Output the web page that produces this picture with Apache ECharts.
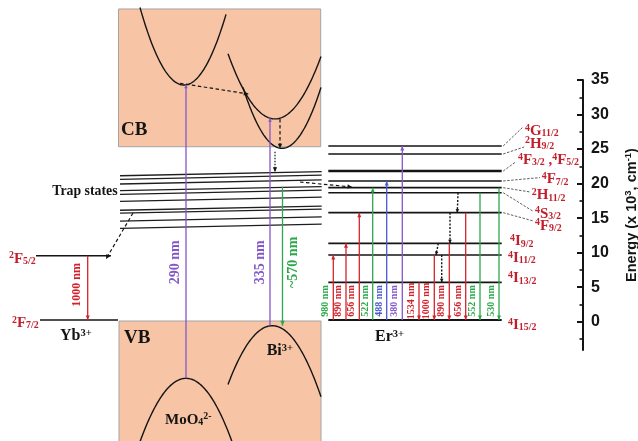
<!DOCTYPE html>
<html>
<head>
<meta charset="utf-8">
<title>Energy transfer scheme</title>
<script src="https://cdn.jsdelivr.net/npm/echarts@6.0.0/dist/echarts.min.js"></script>
<style>
  html, body { margin: 0; padding: 0; background: #ffffff; }
  #chart { width: 638px; height: 441px; }
</style>
</head>
<body>
<div id="chart"></div>
<script>
// ---------------- data (energies in 10^3 cm^-1) ----------------

// Er3+ multiplets, ground state first
const erLevelNames  = ['4I15/2', '4I13/2', '4I11/2', '4I9/2', '4F9/2', '4S3/2', '2H11/2', '4F7/2', '4F3/2,4F5/2', '2H9/2', '4G11/2'];
const erLevelEnergy = [0.25, 5.7, 9.66, 11.35, 15.79, 18.68, 19.41, 20.38, 21.82, 24.29, 25.45];

// Yb3+ multiplets
const ybLevelNames  = ['2F7/2', '2F5/2'];
const ybLevelEnergy = [0.25, 9.56];

// host trap states (energy at the left end of each line; each rises slightly to the right)
const trapEnergy = [21.14, 20.62, 19.94, 18.97, 18.45, 17.44, 16.14, 15.71, 14.58, 13.53];
const trapRise = 0.6;

// Er3+ radiative transitions (level indices) and their horizontal slots
const erTransLabels = ['980 nm', '890 nm', '656 nm', '522 nm', '488 nm', '380 nm', '1534 nm', '1000 nm', '890 nm', '656 nm', '552 nm', '530 nm'];
const erTransFrom   = [0, 0, 0, 0, 0, 0, 1, 2, 3, 4, 5, 6];
const erTransTo     = [2, 3, 4, 6, 7, 10, 0, 0, 0, 0, 0, 0];
const erTransSlot   = [333.3, 346, 359.3, 372.7, 386.7, 402.3, 419, 434.3, 449.3, 465.7, 480, 499];

// Er3+ non-radiative relaxation steps
const erRelaxFrom      = [5, 4, 3, 2];
const erRelaxTo        = [4, 3, 2, 1];
const erRelaxSlotStart = [458, 450, 438.3, 441.7];
const erRelaxSlotEnd   = [457.3, 450, 436, 441.7];

// host band boxes
const bandNames  = ['CB', 'VB'];
const bandLeft   = [118.5, 119];
const bandRight  = [320.7, 321];
const bandTop    = [45.29, 0.1];
const bandBottom = [25.34, -18];

// parabolic band extrema, E = E0 + k (x - x0)^2
const curveNames = ['MoO4 CB', 'Bi CB upper', 'Bi CB lower', 'MoO4 VB', 'Bi VB'];
const curveX0    = [184, 275, 282, 186, 272.3];
const curveE0    = [34.27, 29.37, 25.11, -8.2, -0.58];
const curveK     = [0.0058, 0.00427, 0.0058, -0.00434, -0.00434];
const curveFrom  = [140, 228, 243, 140, 228];
const curveTo    = [226, 321, 321, 236, 321];

// host excitation / emission
const hostTransLabels = ['290 nm', '335 nm', '~570 nm'];
const hostTransSlot   = [186, 270, 282.5];
const hostTransFrom   = [-8.2, -0.58, 19.55];
const hostTransTo     = [34.3, 29.45, -0.58];

// Yb3+ emission
const ybTransLabels = ['1000 nm'];
const ybTransSlot   = [87.7];

// transfer paths (dashed)
const transferStartX = [180, 280, 275, 300, 133];
const transferStartE = [34.53, 29.37, 24.62, 20.23, 15.74];
const transferEndX   = [248.3, 280, 275, 352, 106];
const transferEndE   = [32.98, 25.11, 21.72, 19.51, 9.08];

// energy axis ticks
const majorTicks = [0, 5, 10, 15, 20, 25, 30, 35];
const minorTicks = [-2.5, 2.5, 7.5, 12.5, 17.5, 22.5, 27.5, 32.5];

// ---------------- layout & style ----------------
const SERIF = "'Liberation Serif', 'Times New Roman', Times, serif";
const SANS = "'Liberation Sans', Arial, Helvetica, sans-serif";
const RED = '#d2232c', LABEL_RED = '#c21f2d', GREEN = '#2ba84a', BLUE = '#4a5ad2', PURPLE = '#8457c8';
const PEACH = '#f7c5a5', INK = '#141414';

const erLine = [328.3, 501.7];
const ybLine = [[40, 118], [36, 111]];
const trapLine = [120, 321.7];
const erTransColor = [RED, RED, RED, GREEN, BLUE, PURPLE, RED, RED, RED, RED, GREEN, GREEN];
const erTransTextColor = [GREEN, RED, RED, GREEN, BLUE, PURPLE, RED, RED, RED, RED, GREEN, GREEN];
const hostTransColor = [PURPLE, PURPLE, GREEN];
// label offsets (px) from the right end of each Er line: [dx, dy, leaderDx, leaderDy]
const erLabelLayout = [
  [6.3, 5], [6.3, -4], [6.3, 3], [8.3, -2],
  [33.3, 13, 31.6, 8.3], [33.3, 21, 31.6, 18.7], [30, 7.7, 29, 4.4], [40, -1.7, 38.3, -3.4],
  [16.3, -11, 14.5, -9.5], [23.3, -10.3, 22.5, -7], [23.3, -15, 21.6, -19.3]
];

function termRich(name) {
  return name.split(',').map(function (part) {
    const m = part.match(/^(\d)([A-Z])(.+)$/);
    return '{s|' + m[1] + '}{m|' + m[2] + '}{b|' + m[3] + '}';
  }).join('{m| ,}');
}
function richStyles(size, family) {
  const f = family || SERIF;
  return {
    s: { fontSize: size * 0.66, fontFamily: f, fontWeight: 'bold', verticalAlign: 'top', lineHeight: size * 0.5 },
    m: { fontSize: size, fontFamily: f, fontWeight: 'bold', lineHeight: size * 1.05 },
    b: { fontSize: size * 0.66, fontFamily: f, fontWeight: 'bold', verticalAlign: 'bottom', lineHeight: size * 0.5 }
  };
}

function head(tip, from, len, half, color) {
  const dx = tip[0] - from[0], dy = tip[1] - from[1];
  const d = Math.hypot(dx, dy) || 1;
  const ux = dx / d, uy = dy / d;
  const bx = tip[0] - ux * len, by = tip[1] - uy * len;
  return { type: 'polygon', shape: { points: [tip, [bx - uy * half, by + ux * half], [bx + uy * half, by - ux * half]] }, style: { fill: color } };
}
function arrow(p0, p1, color, width, dash, len, half) {
  const out = [{ type: 'line', shape: { x1: p0[0], y1: p0[1], x2: p1[0], y2: p1[1] }, style: { stroke: color, lineWidth: width, lineDash: dash || null } }];
  if (len) out.push(head(p1, p0, len, half, color));
  return out;
}
function text(x, y, str, opts) {
  return {
    type: 'text', x: x, y: y, rotation: opts.rotation || 0,
    style: {
      legacy: false, text: str, rich: opts.rich, fill: opts.color || INK,
      fontSize: opts.size, fontFamily: opts.family || SERIF, fontWeight: 'bold',
      align: opts.align || 'left', verticalAlign: 'middle'
    }
  };
}

function series(name, data, renderItem) {
  return { type: 'custom', name: name, coordinateSystem: 'cartesian2d', xAxisIndex: 0, yAxisIndex: 0,
           data: data, renderItem: renderItem, clip: false, silent: true, animation: false };
}

// ---------------- series ----------------
const bandSeries = series('bands', bandNames.map(function (_, i) { return [bandLeft[i], bandTop[i], bandRight[i], bandBottom[i]]; }),
  function (params, api) {
    const a = api.coord([api.value(0), api.value(1)]);
    const b = api.coord([api.value(2), api.value(3)]);
    return { type: 'rect', shape: { x: a[0], y: a[1], width: b[0] - a[0], height: b[1] - a[1] },
             style: { fill: PEACH, stroke: '#a4a4a4', lineWidth: 1 } };
  });

const curveSeries = series('curves', curveNames.map(function (_, i) { return [curveX0[i], curveE0[i], curveK[i], curveFrom[i], curveTo[i]]; }),
  function (params, api) {
    const x0 = api.value(0), e0 = api.value(1), k = api.value(2), a = api.value(3), b = api.value(4);
    const pts = [];
    for (let j = 0; j <= 90; j++) {
      const x = a + (b - a) * j / 90;
      pts.push(api.coord([x, e0 + k * (x - x0) * (x - x0)]));
    }
    return { type: 'polyline', shape: { points: pts }, style: { stroke: INK, lineWidth: 1.4, fill: null } };
  });

const trapSeries = series('trap states', trapEnergy.map(function (e) { return [trapLine[0], e, trapLine[1], e + trapRise]; }),
  function (params, api) {
    const a = api.coord([api.value(0), api.value(1)]);
    const b = api.coord([api.value(2), api.value(3)]);
    return { type: 'line', shape: { x1: a[0], y1: a[1], x2: b[0], y2: b[1] }, style: { stroke: '#1e1e1e', lineWidth: 1.3 } };
  });

const ybSeries = series('Yb levels', ybLevelEnergy.map(function (e, i) { return [ybLine[i][0], e, ybLine[i][1]]; }),
  function (params, api) {
    const i = params.dataIndex;
    const a = api.coord([api.value(0), api.value(1)]);
    const b = api.coord([api.value(2), api.value(1)]);
    const lab = text(i === 0 ? 12 : 9, a[1] + 3, termRich(ybLevelNames[i]), { rich: richStyles(15), size: 15, color: LABEL_RED });
    return { type: 'group', children: [
      { type: 'line', shape: { x1: a[0], y1: a[1], x2: b[0], y2: b[1] }, style: { stroke: INK, lineWidth: 1.6 } }, lab] };
  });

const erSeries = series('Er levels', erLevelEnergy.map(function (e) { return [erLine[0], e, erLine[1]]; }),
  function (params, api) {
    const i = params.dataIndex;
    const a = api.coord([api.value(0), api.value(1)]);
    const b = api.coord([api.value(2), api.value(1)]);
    const lay = erLabelLayout[i];
    const kids = [{ type: 'line', shape: { x1: a[0], y1: a[1], x2: b[0], y2: b[1] },
                    style: { stroke: INK, lineWidth: i === 8 ? 2.6 : (i === 0 ? 2 : 1.6) } }];
    if (lay.length > 2) {
      kids.push({ type: 'line', shape: { x1: b[0] + 1.5, y1: b[1], x2: b[0] + lay[2], y2: b[1] + lay[3] },
                  style: { stroke: '#333', lineWidth: 0.8, lineDash: [2.5, 1.5] } });
    }
    kids.push(text(b[0] + lay[0], b[1] + lay[1], termRich(erLevelNames[i]), { rich: richStyles(15), size: 15, color: LABEL_RED }));
    return { type: 'group', children: kids };
  });

const erTransSeries = series('Er transitions', erTransSlot.map(function (x, i) { return [x, erLevelEnergy[erTransFrom[i]], erLevelEnergy[erTransTo[i]]]; }),
  function (params, api) {
    const i = params.dataIndex;
    const p0 = api.coord([api.value(0), api.value(1)]);
    const p1 = api.coord([api.value(0), api.value(2)]);
    const g = api.coord([api.value(0), erLevelEnergy[0]]);
    const kids = arrow(p0, p1, erTransColor[i], 1.3, null, 4.5, 2);
    kids.push(text(g[0] - 7.5, g[1] - 19, erTransLabels[i], { size: 10, color: erTransTextColor[i], align: 'center', rotation: Math.PI / 2 }));
    return { type: 'group', children: kids };
  });

const erRelaxSeries = series('Er relaxation', erRelaxFrom.map(function (f, i) { return [erRelaxSlotStart[i], erLevelEnergy[f], erRelaxSlotEnd[i], erLevelEnergy[erRelaxTo[i]]]; }),
  function (params, api) {
    const p0 = api.coord([api.value(0), api.value(1)]);
    const p1 = api.coord([api.value(2), api.value(3)]);
    return { type: 'group', children: arrow(p0, p1, INK, 1.4, [2, 1.6], 3.5, 1.8) };
  });

const hostTransSeries = series('host transitions', hostTransSlot.map(function (x, i) { return [x, hostTransFrom[i], hostTransTo[i]]; }),
  function (params, api) {
    const i = params.dataIndex;
    const p0 = api.coord([api.value(0), api.value(1)]);
    const p1 = api.coord([api.value(0), api.value(2)]);
    const kids = arrow(p0, p1, hostTransColor[i], 1.3, null, i === 2 ? 5 : 3.5, i === 2 ? 2.2 : 1.8);
    const mid = api.coord([api.value(0), 8.6]);
    const dx = i === 2 ? 11 : (i === 0 ? -11 : -9.5);
    kids.push(text(mid[0] + dx, mid[1], hostTransLabels[i], { size: 14, color: hostTransColor[i], align: 'center', rotation: Math.PI / 2 }));
    return { type: 'group', children: kids };
  });

const ybTransSeries = series('Yb transition', ybTransSlot.map(function (x) { return [x, ybLevelEnergy[1], ybLevelEnergy[0]]; }),
  function (params, api) {
    const p0 = api.coord([api.value(0), api.value(1)]);
    const p1 = api.coord([api.value(0), api.value(2)]);
    const kids = arrow(p0, p1, RED, 1.3, null, 4.5, 2);
    const mid = api.coord([api.value(0), (api.value(1) + api.value(2)) / 2]);
    kids.push(text(mid[0] - 11, mid[1] - 3, ybTransLabels[params.dataIndex], { size: 12, color: RED, align: 'center', rotation: Math.PI / 2 }));
    return { type: 'group', children: kids };
  });

const transferSeries = series('transfer', transferStartX.map(function (x, i) { return [x, transferStartE[i], transferEndX[i], transferEndE[i]]; }),
  function (params, api) {
    const p0 = api.coord([api.value(0), api.value(1)]);
    const p1 = api.coord([api.value(2), api.value(3)]);
    const dotted = params.dataIndex === 2;
    return { type: 'group', children: arrow(p0, p1, INK, 1.2, dotted ? [1.5, 1.5] : [3.5, 2.5], 4.5, 2.2) };
  });

// text annotations placed on the diagram (x, energy)
const annotationText = ['CB', 'VB', '{m|Bi}{s|3+}', '{m|MoO}{b|4}{s|2-}', '{m|Yb}{s|3+}', '{m|Er}{s|3+}', 'Trap states'];
const annotationLayout = [
  { x: 121, e: 27.76, size: 19 }, { x: 124, e: -2.36, size: 19 }, { x: 266.7, e: -4.25, size: 16 },
  { x: 165, e: -14.2, size: 15 }, { x: 60, e: -2.07, size: 16 }, { x: 375, e: -2.17, size: 16 },
  { x: 117.5, e: 18.83, size: 13.8, align: 'right' }
];
const annotationSeries = series('annotations', annotationLayout.map(function (l) { return [l.x, l.e]; }),
  function (params, api) {
    const l = annotationLayout[params.dataIndex];
    const p = api.coord([api.value(0), api.value(1)]);
    return text(p[0], p[1], annotationText[params.dataIndex], { size: l.size, rich: richStyles(l.size), align: l.align || 'left' });
  });

// ---------------- chart ----------------
const E_TOP = 321.7 / 6.905;
const E_BOTTOM = (321.7 - 441) / 6.905;

const chart = echarts.init(document.getElementById('chart'), null, { renderer: 'canvas', width: 638, height: 441 });
chart.setOption({
  animation: false,
  backgroundColor: '#ffffff',
  grid: [
    { left: 0, right: 0, top: 0, bottom: 0, containLabel: false, outerBoundsMode: 'none' },
    { left: 0, right: 55, top: 80, bottom: 91, containLabel: false, outerBoundsMode: 'none' }
  ],
  xAxis: [
    { gridIndex: 0, type: 'value', min: 0, max: 638, show: false },
    { gridIndex: 1, type: 'value', min: 0, max: 1, show: false }
  ],
  yAxis: [
    { gridIndex: 0, type: 'value', min: E_BOTTOM, max: E_TOP, show: false },
    {
      gridIndex: 1, type: 'value', position: 'right', min: -4.1, max: 35,
      splitLine: { show: false },
      axisLine: { show: true, onZero: false, lineStyle: { color: INK, width: 2 } },
      axisTick: { show: true, inside: true, length: 6, lineStyle: { color: INK, width: 2 }, customValues: majorTicks },
      axisLabel: { show: true, customValues: majorTicks, margin: 8, color: INK, fontSize: 16, fontWeight: 'bold', fontFamily: SANS },
      name: 'Energy (x 10{sup|3}, cm{sup|-1})',
      nameLocation: 'middle', nameRotate: 90, nameGap: 40, nameMoveOverlap: false,
      nameTextStyle: {
        color: INK, fontSize: 14.5, fontWeight: 'bold', fontFamily: SANS, lineHeight: 18,
        rich: { sup: { fontSize: 9.5, fontWeight: 'bold', fontFamily: SANS, verticalAlign: 'top', lineHeight: 10 } }
      }
    },
    {
      gridIndex: 1, type: 'value', position: 'right', min: -4.1, max: 35,
      splitLine: { show: false }, axisLine: { show: false, onZero: false }, axisLabel: { show: false },
      axisTick: { show: true, inside: true, length: 3.5, lineStyle: { color: INK, width: 1.6 }, customValues: minorTicks }
    }
  ],
  series: [
    bandSeries, curveSeries, trapSeries, ybSeries, erSeries,
    hostTransSeries, erTransSeries, erRelaxSeries, ybTransSeries, transferSeries, annotationSeries
  ]
});
</script>
</body>
</html>
